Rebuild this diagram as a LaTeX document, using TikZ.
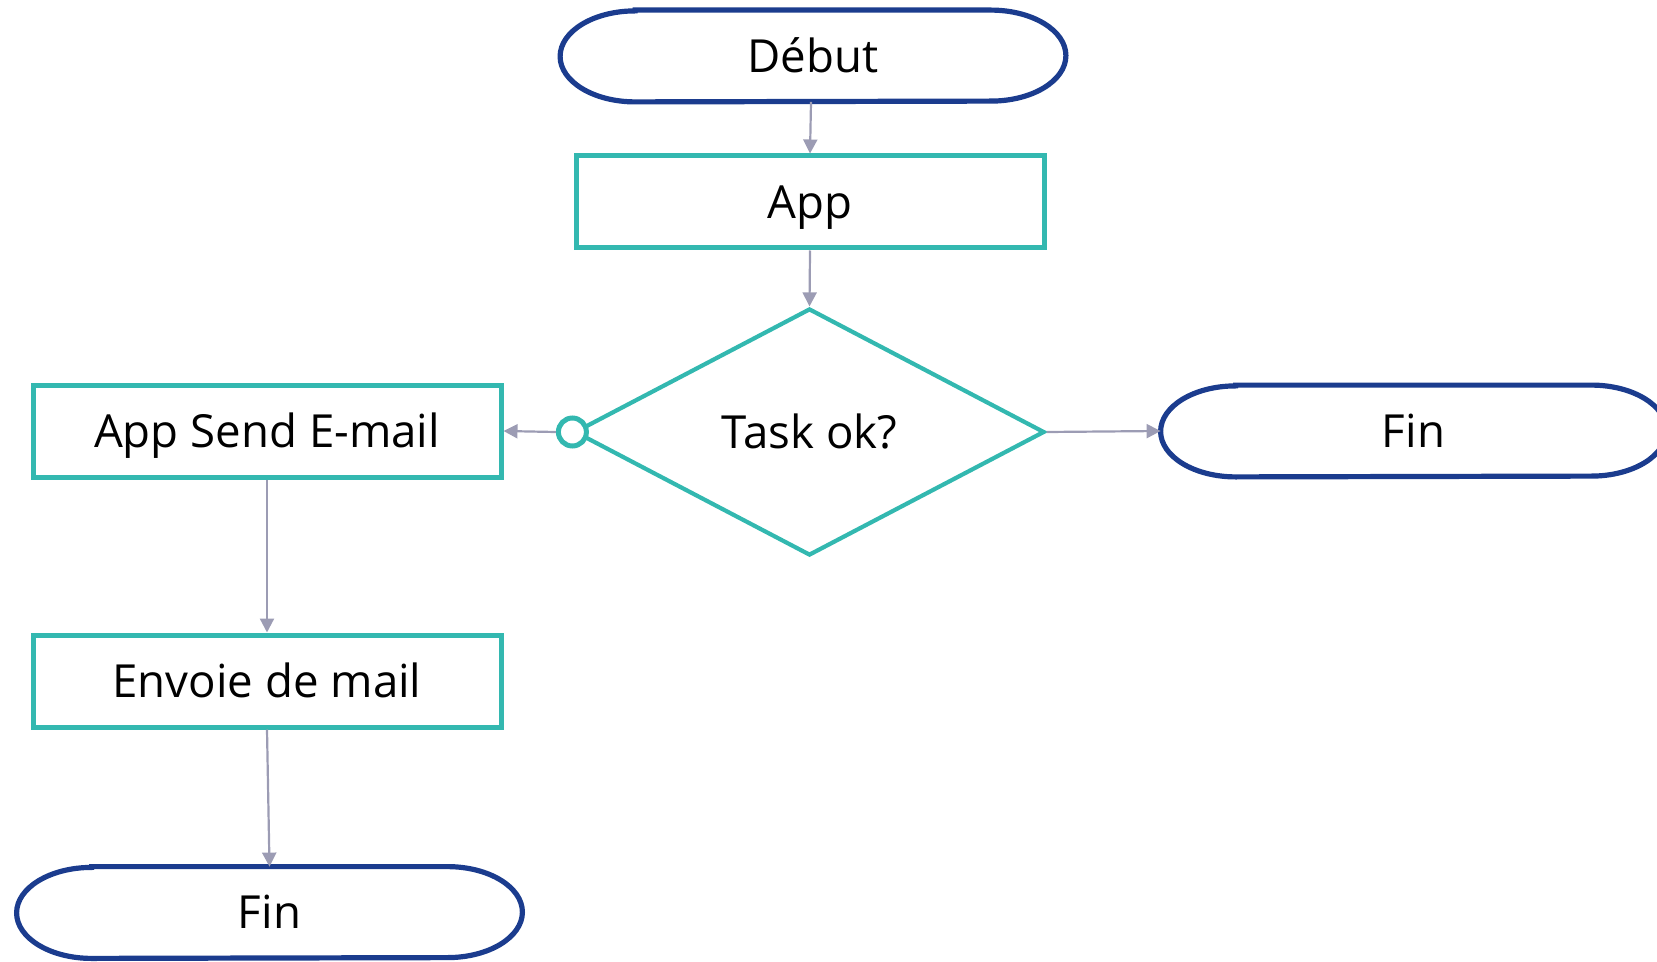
\documentclass[tikz,border=0pt]{standalone}
\usepackage{fontspec}
\setmainfont{Open Sans}
\usetikzlibrary{shapes.geometric,arrows.meta}
\definecolor{navy}{HTML}{1B3C8E}
\definecolor{teal2}{HTML}{33B8B0}
\definecolor{arrowgray}{HTML}{9C9CB4}
\tikzset{
  lbl/.style={font=\fontsize{22.8}{25}\selectfont, text=black, text height=16.3pt, text depth=0pt},
  term/.style={lbl, rectangle, draw=none, minimum width=252.5pt, minimum height=45.5pt, inner sep=0pt},
  termline/.style={draw=navy, line width=2.6pt},
  procbox/.style={lbl, rectangle, draw=teal2, line width=2.5pt, minimum width=234pt, minimum height=46pt, inner sep=0pt},
  decbox/.style={lbl, diamond, draw=teal2, line width=2.1pt, aspect=1.9, minimum width=235pt, minimum height=123.5pt, inner sep=0pt},
  portc/.style={circle, draw=teal2, line width=2.5pt, fill=white, minimum size=14pt, inner sep=0pt},
  conn/.style={draw=arrowgray, line width=1.1pt, -{Triangle[length=7pt,width=7pt]}}
}
\newcommand{\stadiumoutline}[1]{%
  \draw[termline] ([xshift=37.5pt]#1.north west) -- ([xshift=-37.5pt]#1.north east)
    arc[start angle=90,end angle=-90,x radius=37.5pt,y radius=22.75pt]
    -- ([xshift=37.5pt]#1.south west)
    arc[start angle=270,end angle=90,x radius=37.5pt,y radius=22.75pt] -- cycle;}
\begin{document}
\begin{tikzpicture}[x=0.5pt,y=-0.5pt]
\useasboundingbox (0,0) rectangle (1657,962);
\node[term] (debut) at (813,56) {Début};
\stadiumoutline{debut}
\node[procbox] (app) at (810,202) {App};
\node[decbox] (task) at (809.5,432) {Task ok?};
\node[portc] (port) at (task.west) {};
\node[procbox] (send) at (267,431) {App Send E-mail};
\node[procbox] (envoie) at (267,681) {Envoie de mail};
\node[term] (finr) at (1413.5,431) {Fin};
\stadiumoutline{finr}
\node[term] (finb) at (269.5,912.5) {Fin};
\stadiumoutline{finb}
\draw[conn] ([xshift=-1pt]debut.south) -- (app.north);
\draw[conn] (app.south) -- (task.north);
\draw[conn] (port.west) -- (send.east);
\draw[conn] (task.east) -- (finr.west);
\draw[conn] (send.south) -- (envoie.north);
\draw[conn] (envoie.south) -- (finb.north);
\end{tikzpicture}
\end{document}
